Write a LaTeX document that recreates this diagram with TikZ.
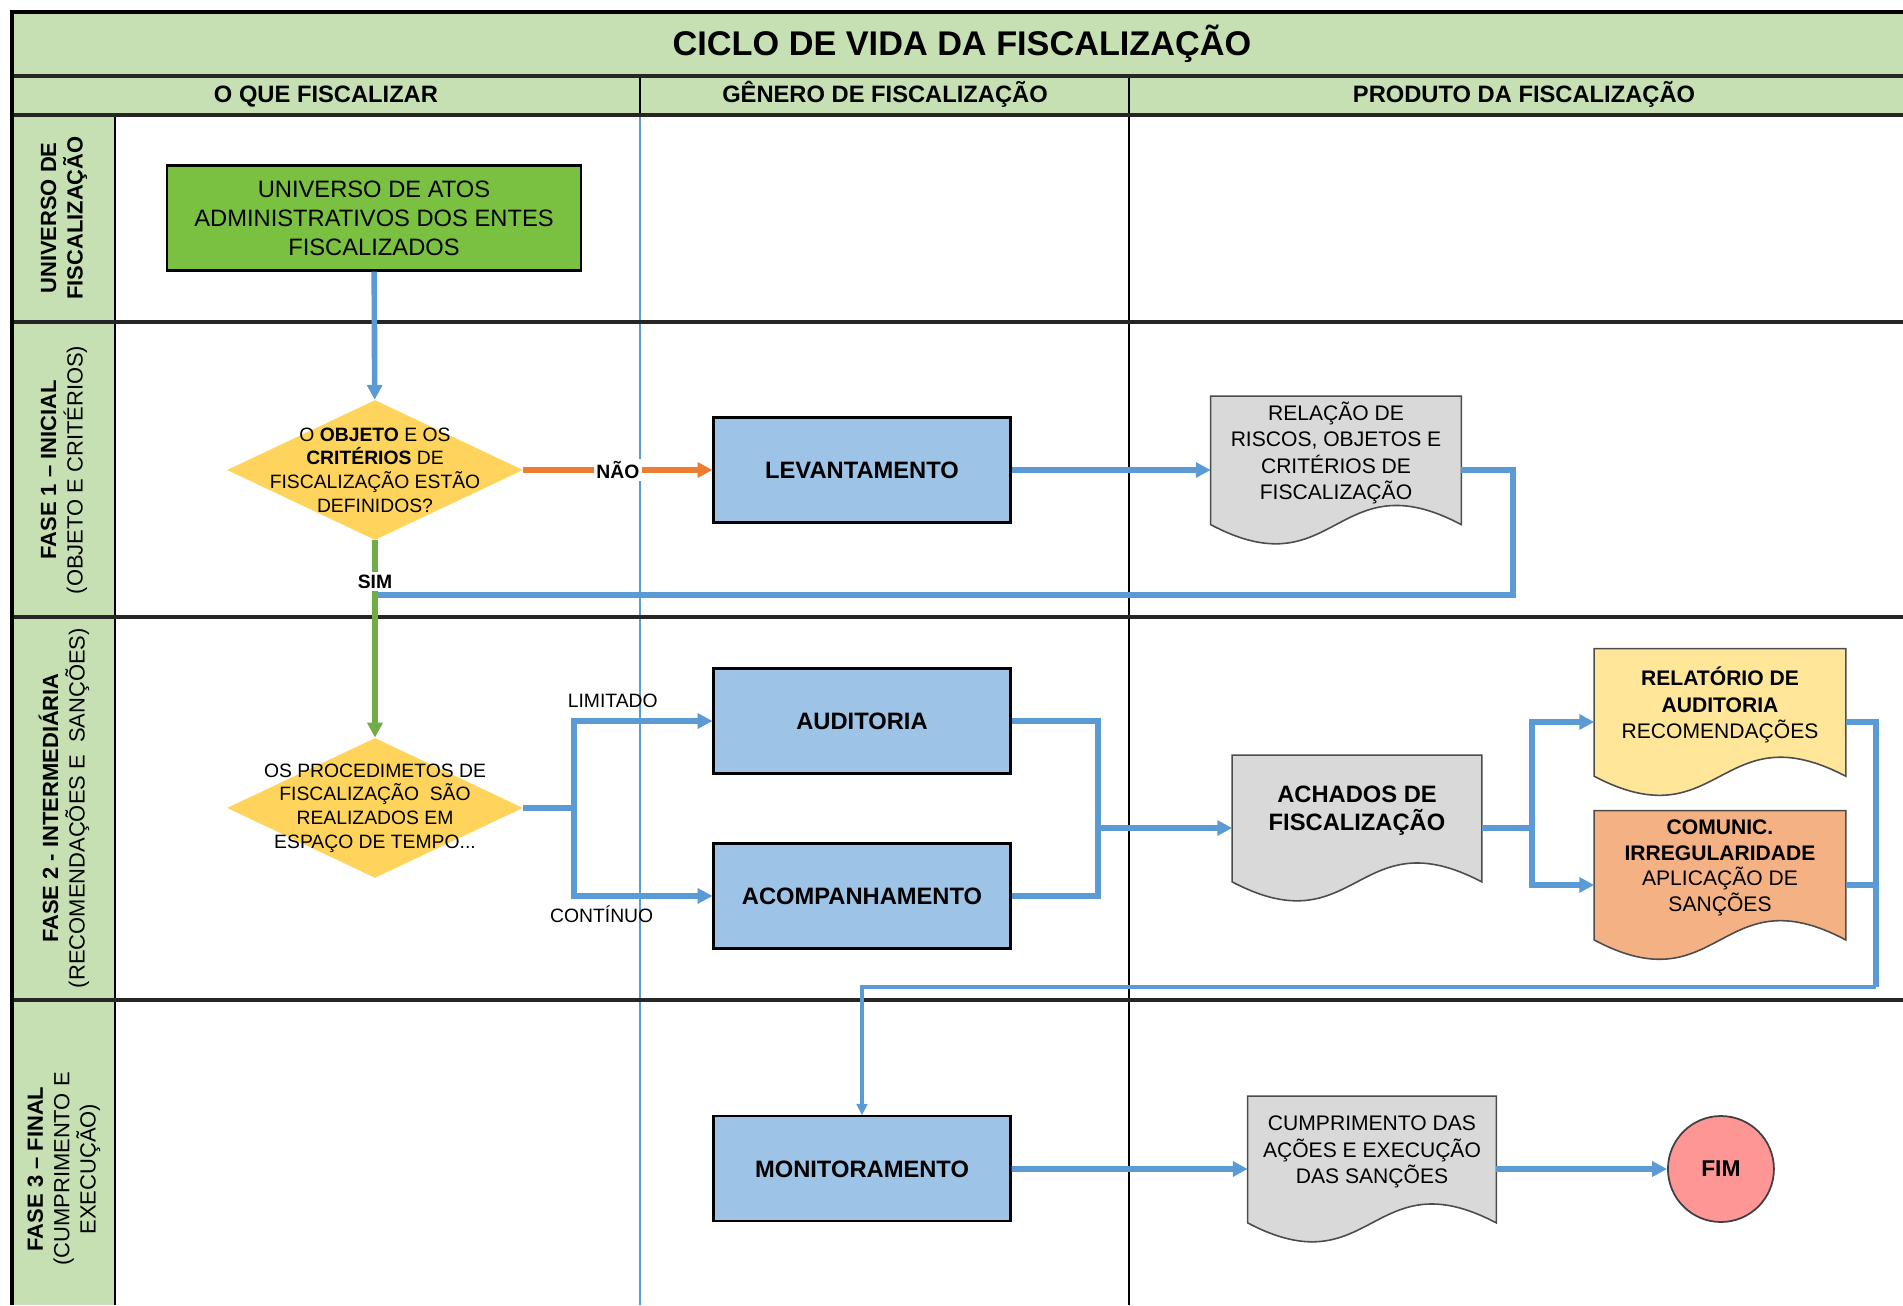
\documentclass[tikz,border=0pt]{standalone}
\usepackage{fontspec}
\setmainfont{Liberation Sans}
\usetikzlibrary{shapes, arrows.meta, positioning, calc, backgrounds}

\definecolor{hdrgreen}{RGB}{198,224,180}
\definecolor{univgreen}{RGB}{122,193,66}
\definecolor{boxblue}{RGB}{157,195,230}
\definecolor{decgold}{RGB}{255,212,92}
\definecolor{docgray}{RGB}{217,217,217}
\definecolor{relyellow}{RGB}{255,230,153}
\definecolor{comorange}{RGB}{244,177,131}
\definecolor{fimred}{RGB}{255,150,150}
\definecolor{flowblue}{RGB}{91,155,213}
\definecolor{naoorange}{RGB}{237,125,49}
\definecolor{simgreen}{RGB}{112,173,71}

\tikzstyle{lanerule} = [draw=black!85, line width=2pt]
\tikzstyle{colhead} = [text height=10pt, text depth=3pt, font=\fontsize{13.5}{16}\selectfont\bfseries]
\tikzstyle{lane} = [rotate=90, align=center, font=\fontsize{12.5}{15}\selectfont]
\tikzstyle{univ} = [draw, line width=1.2pt, fill=univgreen, rectangle, minimum width=8.28cm, minimum height=2.1cm, align=center, font=\fontsize{13.5}{16.5}\selectfont]
\tikzstyle{proc} = [draw, line width=1.2pt, fill=boxblue, rectangle, minimum width=5.94cm, minimum height=2.1cm, font=\fontsize{13.5}{16}\selectfont\bfseries]
\tikzstyle{decision} = [diamond, fill=decgold, minimum width=5.92cm, minimum height=2.8cm, inner sep=0pt]
\tikzstyle{dectext} = [align=center, font=\fontsize{11}{13.5}\selectfont]
\tikzstyle{doc} = [rectangle, inner sep=0pt]
\tikzstyle{doctext} = [align=center, yshift=0.34cm, font=\fontsize{12}{15}\selectfont]
\tikzstyle{fimnode} = [circle, draw=black!75, line width=1pt, fill=fimred, minimum size=2.12cm, font=\fontsize{13}{15}\selectfont\bfseries]
\tikzstyle{flow} = [->, draw=flowblue, line width=3.2pt]
\tikzstyle{conn} = [draw=flowblue, line width=3.2pt]
\tikzstyle{thinflow} = [-{Triangle[length=6.5pt,width=6pt]}, draw=flowblue, line width=2pt]
\tikzstyle{lbl} = [fill=white, inner sep=1.5pt, font=\fontsize{11}{13}\selectfont\bfseries]
\tikzstyle{lbltxt} = [inner sep=1pt, font=\fontsize{11}{13}\selectfont]

\newcommand{\docshape}[2]{%
  \filldraw[fill=#2, draw=black!70, line width=0.9pt]
    (#1.north west) -- (#1.north east)
    -- ($(#1.north east)!0.87!(#1.south east)$)
    .. controls ($(#1.north)!0.42!(#1.south)$) and ($(#1.north)!1.32!(#1.south)$)
    .. ($(#1.north west)!0.87!(#1.south west)$) -- cycle;}

\begin{document}
\begin{tikzpicture}[x=0.02cm, y=-0.02cm, >={Triangle[length=8.5pt,width=8.5pt]}, node distance=1cm]
  \useasboundingbox (0,0) rectangle (1903,1305);
  \fill[hdrgreen] (12,12) rectangle (1903,115);
  \fill[hdrgreen] (12,115) rectangle (115,1305);
  \draw[line width=0.8pt] (640,76) -- (640,115);
  \draw[line width=0.8pt] (1129,76) -- (1129,1305);
  \draw[flowblue, line width=0.8pt] (640,115) -- (640,1305);
  \draw[line width=1.2pt] (115,115) -- (115,1305);
  \draw[lanerule] (12,76) -- (1903,76);
  \draw[lanerule] (12,115) -- (1903,115);
  \draw[lanerule] (12,322) -- (1903,322);
  \draw[lanerule] (12,617) -- (1903,617);
  \draw[lanerule] (12,1000) -- (1903,1000);
  \draw[line width=2.4pt] (1903,12) -- (12,12) -- (12,1305);

  \node[font=\fontsize{19.5}{22}\selectfont\bfseries] (title) at (962,44) {CICLO DE VIDA DA FISCALIZAÇÃO};
  \node[colhead] (h1) at (326,96) {O QUE FISCALIZAR};
  \node[colhead] (h2) at (885,96) {GÊNERO DE FISCALIZAÇÃO};
  \node[colhead] (h3) at (1524,96) {PRODUTO DA FISCALIZAÇÃO};
  \node[lane] (l1) at (64,218) {\textbf{UNIVERSO DE}\\\textbf{FISCALIZAÇÃO}};
  \node[lane] (l2) at (64,470) {\textbf{FASE 1 – INICIAL}\\(OBJETO E CRITÉRIOS)};
  \node[lane] (l3) at (64,808) {\textbf{FASE 2 - INTERMEDIÁRIA}\\(RECOMENDAÇÕES E\ \ SANÇÕES)};
  \node[lane] (l4) at (64,1169) {\textbf{FASE 3 – FINAL}\\(CUMPRIMENTO E\\EXECUÇÃO)};

  \node[univ] (univ) at (374,218) {UNIVERSO DE ATOS\\ADMINISTRATIVOS DOS ENTES\\FISCALIZADOS};
  \node[decision, label={[dectext]center:{O \textbf{OBJETO} E OS\\\textbf{CRITÉRIOS} DE\\FISCALIZAÇÃO ESTÃO\\DEFINIDOS?}}] (dec1) at (375,470) {};
  \node[proc] (levant) at (862,470) {LEVANTAMENTO};
  \node[doc, minimum width=5cm, minimum height=2.94cm, label={[doctext]center:{RELAÇÃO DE\\RISCOS, OBJETOS E\\CRITÉRIOS DE\\FISCALIZAÇÃO}}] (relacao) at (1336,470) {};
  \node[decision, below of=dec1, node distance=6.76cm, label={[dectext]center:{OS PROCEDIMETOS DE\\FISCALIZAÇÃO\ \ SÃO\\REALIZADOS EM\\ESPAÇO DE TEMPO...}}] (dec2) {};
  \node[proc] (audit) at (862,721) {AUDITORIA};
  \node[proc, below of=audit, node distance=3.5cm] (acomp) {ACOMPANHAMENTO};
  \node[doc, minimum width=4.98cm, minimum height=2.9cm, label={[doctext, font=\fontsize{13.5}{16}\selectfont\bfseries]center:{ACHADOS DE\\FISCALIZAÇÃO}}] (achados) at (1357,828) {};
  \node[doc, minimum width=5.02cm, minimum height=2.92cm, label={[doctext]center:{\textbf{RELATÓRIO DE}\\\textbf{AUDITORIA}\\RECOMENDAÇÕES}}] (relat) at (1720,722) {};
  \node[doc, below of=relat, node distance=3.26cm, minimum width=5.02cm, minimum height=2.96cm, label={[doctext, font=\fontsize{12}{14.6}\selectfont]center:{\textbf{COMUNIC.}\\\textbf{IRREGULARIDADE}\\APLICAÇÃO DE\\SANÇÕES}}] (comunic) {};
  \node[proc, below of=acomp, node distance=5.46cm] (monit) {MONITORAMENTO};
  \node[doc, minimum width=4.96cm, minimum height=2.9cm, label={[doctext]center:{CUMPRIMENTO DAS\\AÇÕES E EXECUÇÃO\\DAS SANÇÕES}}] (cumpr) at (1372,1169) {};
  \node[fimnode, right of=cumpr, node distance=6.98cm] (fim) {FIM};

  \begin{scope}[on background layer]
    \docshape{relacao}{docgray}
    \docshape{achados}{docgray}
    \docshape{relat}{relyellow}
    \docshape{comunic}{comorange}
    \docshape{cumpr}{docgray}
  \end{scope}

  \coordinate (j1) at (375,595);
  \coordinate (r1) at (1513,595);
  \coordinate (s1) at (574,808);
  \coordinate (m1) at (1098,828);
  \coordinate (s2) at (1532,828);
  \coordinate (c1) at (1876,987);

  \draw[flow] (univ) -- (dec1);
  \draw[->, draw=naoorange, line width=3.2pt] (dec1) -- node[lbl]{NÃO} (levant);
  \draw[flow] (levant) -- (relacao);
  \draw[conn] (relacao) -| (r1) -- (j1);
  \draw[->, draw=simgreen, line width=3.2pt] (dec1) -- node[lbl, pos=0.21]{SIM} (dec2);
  \draw[conn] (dec2) -- (s1);
  \draw[flow] (s1) |- node[lbltxt, above=5pt, pos=0.64]{LIMITADO} (audit);
  \draw[flow] (s1) |- node[lbltxt, below=3pt, pos=0.6]{CONTÍNUO} (acomp);
  \draw[conn] (audit) -| (m1);
  \draw[conn] (acomp) -| (m1);
  \draw[flow] (m1) -- (achados);
  \draw[conn] (achados) -- (s2);
  \draw[flow] (s2) |- (relat);
  \draw[flow] (s2) |- (comunic);
  \draw[conn] (relat) -| (c1);
  \draw[conn] (comunic) -| (c1);
  \draw[thinflow] (c1) -| (monit);
  \draw[flow] (monit) -- (cumpr);
  \draw[flow] (cumpr) -- (fim);
\end{tikzpicture}
\end{document}
